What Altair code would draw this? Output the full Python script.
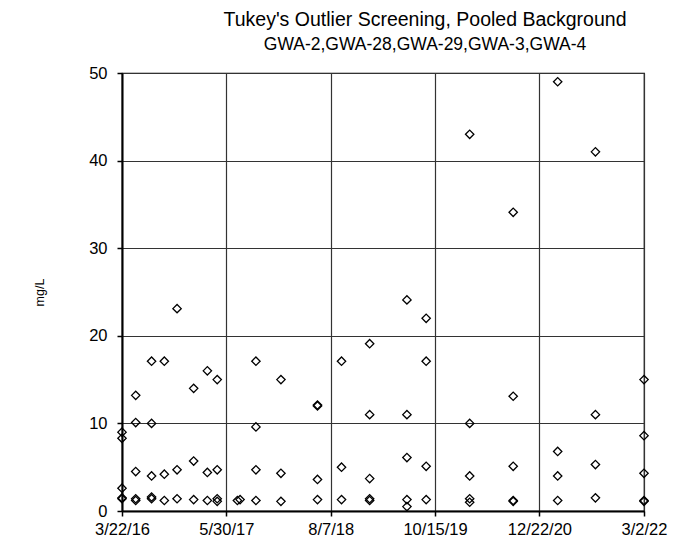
import altair as alt
import pandas as pd

sample_dates = (
    ["2016-03-22"] * 5 + ["2016-05-18"] * 5 + ["2016-07-23"] * 5 + ["2016-09-14"] * 3
    + ["2016-11-06"] * 3 + ["2017-01-14"] * 3 + ["2017-03-12"] * 3 + ["2017-04-22"] * 4
    + ["2017-07-15"] + ["2017-07-26"] + ["2017-09-30"] * 4 + ["2018-01-12"] * 3
    + ["2018-06-13"] * 4 + ["2018-09-21"] * 3 + ["2019-01-16"] * 5 + ["2019-06-20"] * 5
    + ["2019-09-08"] * 4 + ["2020-03-07"] * 5 + ["2020-09-04"] * 5 + ["2021-03-08"] * 4
    + ["2021-08-12"] * 4 + ["2022-03-02"] * 5
)
concentrations = [
    9.0, 8.3, 2.6, 1.5, 1.4,
    13.2, 10.1, 4.5, 1.4, 1.2,
    17.1, 10.0, 4.0, 1.6, 1.4,
    17.1, 4.2, 1.2,
    23.1, 4.7, 1.4,
    14.0, 5.7, 1.3,
    16.0, 4.4, 1.2,
    15.0, 4.7, 1.4, 1.1,
    1.2,
    1.3,
    17.1, 9.6, 4.7, 1.2,
    15.0, 4.3, 1.1,
    12.1, 12.0, 3.6, 1.3,
    17.1, 5.0, 1.3,
    19.1, 11.0, 3.7, 1.4, 1.2,
    24.1, 11.0, 6.1, 1.3, 0.5,
    22.0, 17.1, 5.1, 1.3,
    43.0, 10.0, 4.0, 1.4, 1.0,
    34.1, 13.1, 5.1, 1.2, 1.1,
    49.0, 6.8, 4.0, 1.2,
    41.0, 11.0, 5.3, 1.5,
    15.0, 8.6, 4.3, 1.2, 1.1,
]
tick_dates = [(2016, 3, 22), (2017, 5, 30), (2018, 8, 7), (2019, 10, 15), (2020, 12, 22), (2022, 3, 2)]
y_ticks = [0, 10, 20, 30, 40, 50]

df = pd.DataFrame({"date": sample_dates, "value": concentrations})

FONT = "Liberation Sans"
tick_dt = [alt.DateTime(year=y, month=m, date=d, utc=True) for (y, m, d) in tick_dates]

chart = (
    alt.Chart(df)
    .mark_point(shape="diamond", size=70, filled=False, color="black", strokeWidth=1.3, opacity=1)
    .encode(
        x=alt.X(
            "date:T",
            scale=alt.Scale(type="utc", domain=[tick_dt[0], tick_dt[-1]], nice=False),
            axis=alt.Axis(
                values=tick_dt, labelExpr="utcFormat(datum.value, '%-m/%-d/%y')", title=None,
                labelFontSize=16.5, labelFont=FONT, labelColor="black", labelPadding=5,
                tickSize=5, tickColor="black", tickWidth=1.5,
                domainColor="black", domainWidth=2,
                grid=True, gridColor="#333333", gridWidth=1.2, labelFlush=False,
            ),
        ),
        y=alt.Y(
            "value:Q",
            scale=alt.Scale(domain=[0, 50], nice=False),
            axis=alt.Axis(
                values=y_ticks, title="mg/L", titleFont=FONT, titleFontSize=12.5,
                titleFontWeight="normal", titleColor="black", titleAngle=-90,
                titleX=-83, titleY=219, titleAlign="center", titleBaseline="middle",
                labelFontSize=16.5, labelFont=FONT, labelColor="black", labelPadding=10,
                tickSize=5, tickColor="black", tickWidth=1.5,
                domainColor="black", domainWidth=2,
                grid=True, gridColor="#333333", gridWidth=1.2,
            ),
        ),
    )
    .properties(
        width=522,
        height=438,
        title=alt.TitleParams(
            text="Tukey's Outlier Screening, Pooled Background",
            subtitle="GWA-2,GWA-28,GWA-29,GWA-3,GWA-4",
            font=FONT, fontSize=19.5, fontWeight="normal", color="black",
            subtitleFont=FONT, subtitleFontSize=17.5, subtitleColor="black",
            subtitlePadding=5, anchor="middle", dx=42, offset=11,
        ),
        padding={"left": 114, "top": 65, "right": 25, "bottom": 25},
        autosize=alt.AutoSizeParams(type="none"),
    )
    .configure_view(stroke="black", strokeWidth=1.2)
)

chart.save("out.html", embed_options={"renderer": "svg", "actions": False})
